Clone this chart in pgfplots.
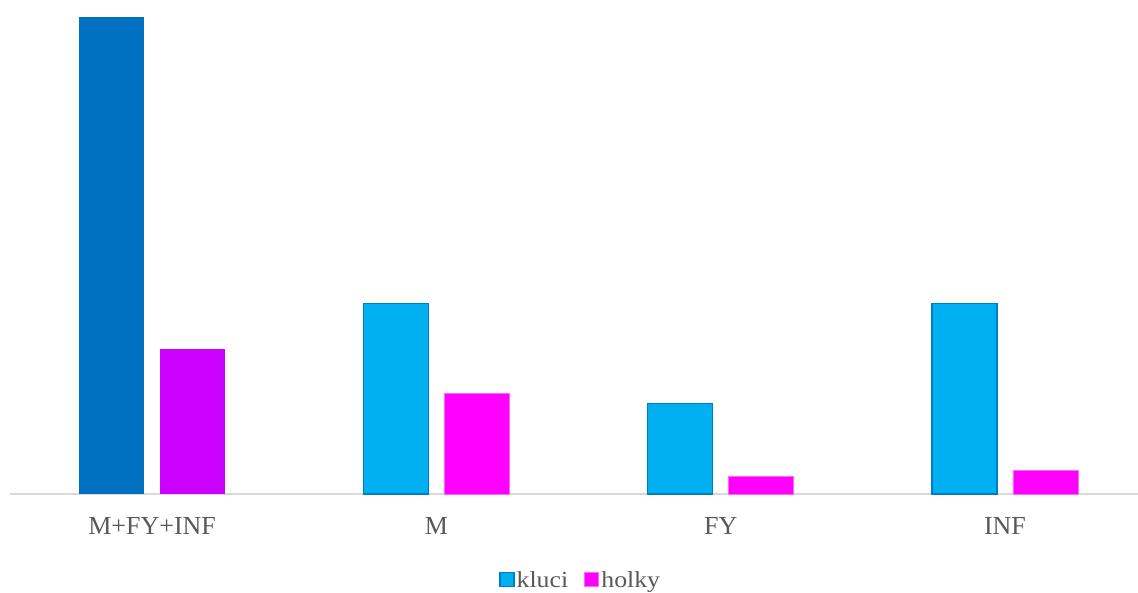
\documentclass[border=0pt]{standalone}
\usepackage{fontspec}
\setmainfont{Liberation Serif}
\usepackage{graphicx}
\usepackage{pgfplots}
\pgfplotsset{compat=1.18}

\definecolor{darkblue}{HTML}{0070C0}
\definecolor{lightblue}{HTML}{00B0F0}
\definecolor{purpleb}{HTML}{CC00FF}
\definecolor{magentab}{HTML}{FF00FF}
\definecolor{axisgray}{HTML}{D9D9D9}
\definecolor{textgray}{HTML}{595959}

\pgfplotsset{
  sq legend/.style={
    legend image code/.code={\draw[##1,/tikz/.cd,line width=1.2pt] (0pt,-7pt) rectangle (14pt,7pt);}
  },
}

\begin{document}
\begin{tikzpicture}
\begin{axis}[
  at={(0,0)}, anchor=south west,
  scale only axis,
  width=1128pt, height=477pt,
  xmin=-0.5, xmax=3.468,
  ymin=0, ymax=100,
  enlargelimits=false,
  axis y line=none,
  axis x line*=bottom,
  x axis line style={draw=axisgray, line width=1.5pt, -},
  xtick={0,1,2,3},
  xticklabels={M+FY+INF, M, FY, INF},
  major tick length=0pt,
  xticklabel style={anchor=base, yshift=-40pt, text=textgray,
    font=\fontsize{26}{30}\selectfont},
  legend columns=2,
  legend style={
    at={(axis description cs:0.506,-0.180)}, anchor=center,
    draw=none, fill=none,
    font=\fontsize{23}{26}\selectfont,
    text=textgray,
    /tikz/every even column/.append style={column sep=14pt},
    nodes={inner sep=2pt},
  },
  clip=false,
]
% first group has its own colours
\addplot[ybar, bar width=65pt, bar shift=-40.5pt, fill=darkblue, draw=none, forget plot]
  coordinates {(0,100)};
\addplot[ybar, bar width=65pt, bar shift=40.5pt, fill=purpleb, draw=none, forget plot]
  coordinates {(0,30.4)};
% kluci
\addplot[ybar, sq legend, bar width=65pt, bar shift=-40.5pt, fill=lightblue, draw=darkblue!80!lightblue, line width=1.2pt]
  coordinates {(1,40.0) (2,18.9) (3,40.0)};
\addlegendentry{\scalebox{1.12}[1]{kluci}}
% holky
\addplot[ybar, sq legend, bar width=65pt, bar shift=40.5pt, fill=magentab, draw=magentab!60!white, line width=0.8pt]
  coordinates {(1,21.0) (2,3.6) (3,5.0)};
\addlegendentry{\scalebox{1.12}[1]{holky}}
\end{axis}
\pgfresetboundingbox
\path (-10pt,-98pt) rectangle (1128pt,494pt);
\end{tikzpicture}
\end{document}
